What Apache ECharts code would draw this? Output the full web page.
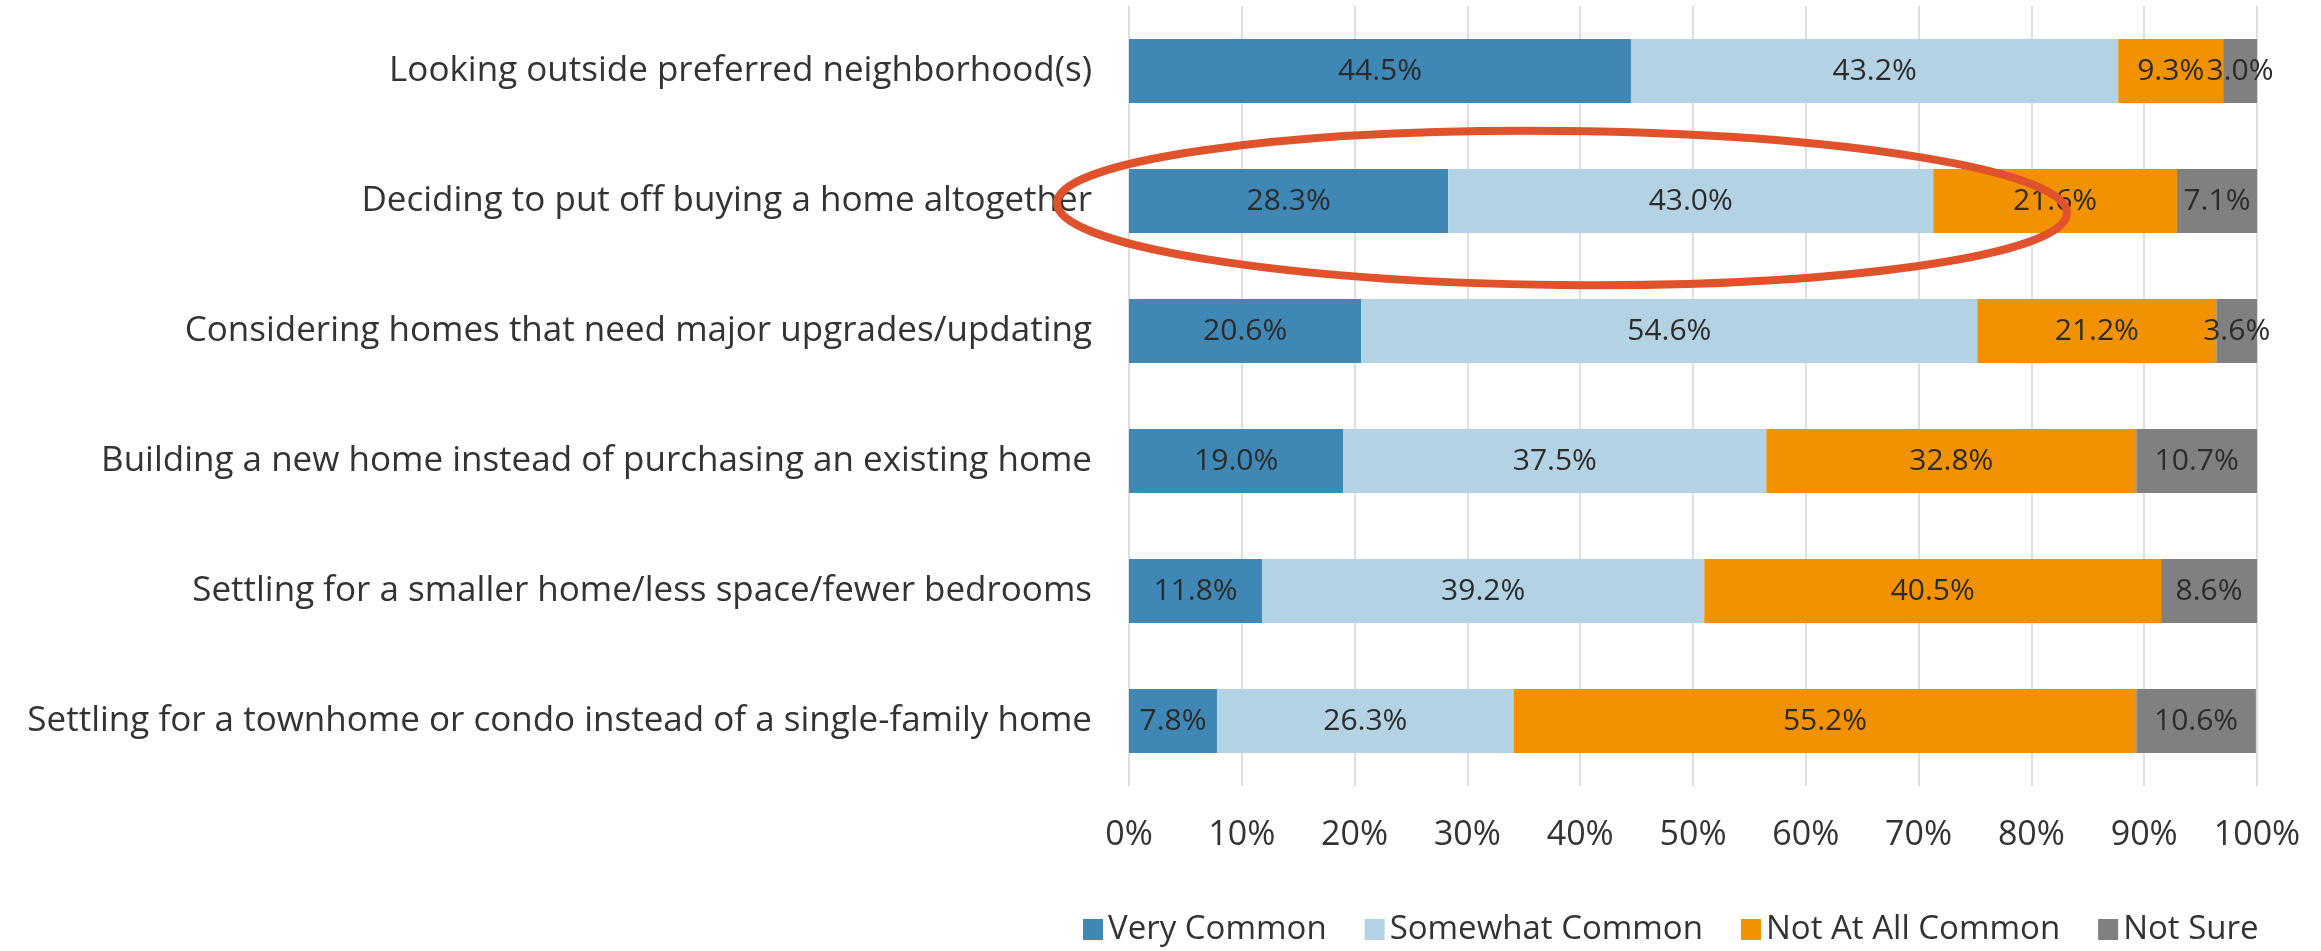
<!DOCTYPE html>
<html>
<head>
<meta charset="utf-8">
<script src="https://cdn.jsdelivr.net/npm/echarts@6/dist/echarts.min.js"></script>
<style>
  html, body { margin: 0; padding: 0; background: #fff; }
  #chart { width: 2321px; height: 951px; }
</style>
</head>
<body>
<div id="chart"></div>
<script>
const categories = [
  'Looking outside preferred neighborhood(s)',
  'Deciding to put off buying a home altogether',
  'Considering homes that need major upgrades/updating',
  'Building a new home instead of purchasing an existing home',
  'Settling for a smaller home/less space/fewer bedrooms',
  'Settling for a townhome or condo instead of a single-family home'
];
const veryCommon = [44.5, 28.3, 20.6, 19.0, 11.8, 7.8];
const somewhatCommon = [43.2, 43.0, 54.6, 37.5, 39.2, 26.3];
const notAtAllCommon = [9.3, 21.6, 21.2, 32.8, 40.5, 55.2];
const notSure = [3.0, 7.1, 3.6, 10.7, 8.6, 10.6];
const xTicks = [0, 10, 20, 30, 40, 50, 60, 70, 80, 90, 100];

const font = 'Open Sans';
const colors = ['#3F87B4', '#B3D2E4', '#F39200', '#808080'];

const mkSeries = (name, data) => ({
  name,
  type: 'bar',
  stack: 'all',
  barWidth: 64,
  data,
  label: {
    show: true,
    position: 'inside',
    formatter: (p) => p.value.toFixed(1) + '%',
    color: '#2b2b2b',
    fontFamily: font,
    fontSize: 30
  }
});

const chart = echarts.init(document.getElementById('chart'));
chart.setOption({
  animation: false,
  color: colors,
  grid: { left: 1129, right: 64, top: 6, bottom: 165 },
  xAxis: {
    type: 'value',
    min: 0,
    max: 100,
    interval: 10,
    axisLine: { show: false },
    axisTick: { show: false },
    splitLine: { show: true, lineStyle: { color: '#d4d4d4', width: 1.5 } },
    axisLabel: {
      formatter: (v) => (xTicks.includes(v) ? v + '%' : ''),
      color: '#333',
      fontFamily: font,
      fontSize: 34,
      margin: 32
    }
  },
  yAxis: {
    type: 'category',
    inverse: true,
    data: categories,
    axisLine: { show: false },
    axisTick: { show: false },
    axisLabel: {
      color: '#333',
      fontFamily: font,
      fontSize: 35,
      margin: 37
    }
  },
  legend: {
    bottom: 0,
    left: 1078,
    width: 1240,
    itemWidth: 20,
    itemHeight: 21,
    itemGap: 38,
    icon: 'rect',
    textStyle: { color: '#333', fontFamily: font, fontSize: 33 }
  },
  series: [
    mkSeries('Very Common', veryCommon),
    mkSeries('Somewhat Common', somewhatCommon),
    mkSeries('Not At All Common', notAtAllCommon),
    mkSeries('Not Sure', notSure)
  ],
  graphic: [{
    type: 'ellipse',
    shape: { cx: 0, cy: 0, rx: 505, ry: 77 },
    x: 1562,
    y: 208,
    rotation: -0.01,
    z: 100,
    style: { fill: null, stroke: '#E0522B', lineWidth: 8 }
  }]
});
</script>
</body>
</html>
